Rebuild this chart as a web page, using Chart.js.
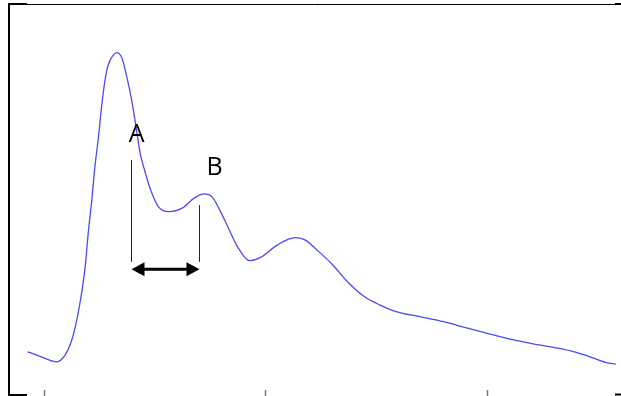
<!DOCTYPE html>
<html>
<head>
<meta charset="utf-8">
<script src="https://cdn.jsdelivr.net/npm/chart.js@4/dist/chart.umd.min.js"></script>
<style>
  html, body { margin: 0; padding: 0; background: #fff; }
  canvas { display: block; }
</style>
</head>
<body>
<canvas id="pulse" width="621" height="396"></canvas>
<script>
// Pulse waveform: time (s) vs. amplitude (arbitrary units, 0-100)
const timeSec = [
  -0.036, -0.009, 0.030, 0.049, 0.064, 0.075, 0.086, 0.094, 0.101, 0.109,
  0.116, 0.124, 0.131, 0.139, 0.146, 0.158, 0.165, 0.177, 0.188, 0.199,
  0.209, 0.218, 0.228, 0.242, 0.259, 0.282, 0.313, 0.340, 0.362, 0.380,
  0.398, 0.416, 0.438, 0.465, 0.492, 0.528, 0.568, 0.590, 0.617, 0.653,
  0.689, 0.724, 0.760, 0.796, 0.849, 0.903, 0.957, 1.001, 1.046, 1.100,
  1.154, 1.198, 1.234, 1.270, 1.292
];
const amplitude = [
  9.9, 8.8, 7.3, 9.1, 13.0, 18.1, 25.1, 31.9, 40.7, 49.2,
  57.8, 65.5, 73.3, 80.4, 84.2, 86.8, 87.4, 86.0, 81.1, 75.1,
  68.1, 61.4, 57.0, 51.8, 47.5, 46.2, 47.1, 49.7, 50.8, 50.1,
  46.6, 42.3, 37.1, 33.5, 34.5, 37.6, 39.5, 38.9, 36.3, 32.4,
  27.7, 24.2, 22.0, 20.3, 19.0, 17.7, 16.0, 14.7, 13.4, 12.1,
  11.0, 9.9, 8.6, 7.1, 6.7
];
const timeTicks = [0, 0.5, 1.0];

// Marked interval between point A and point B
const markA = { t: 0.1975, top: 59.6, label: 'A', labelT: 0.210, labelY: 64.3 };
const markB = { t: 0.351, top: 47.9, label: 'B', labelT: 0.386, labelY: 55.7 };
const markBottom = 33.2;
const arrowLevel = 31.3;

const framePlugin = {
  id: 'frame',
  afterDatasetsDraw(chart) {
    const { ctx, chartArea: a, scales: { x, y } } = chart;
    ctx.save();
    // box edges
    ctx.strokeStyle = '#000';
    ctx.lineWidth = 2;
    ctx.beginPath();
    ctx.moveTo(9, a.top - 0.5);
    ctx.lineTo(9, 395);
    ctx.moveTo(8, 395);
    ctx.lineTo(27, 395);
    ctx.moveTo(8, a.top);
    ctx.lineTo(27, a.top);
    ctx.moveTo(615, a.top);
    ctx.lineTo(621, a.top);
    ctx.moveTo(615, 394.5);
    ctx.lineTo(621, 394.5);
    ctx.stroke();
    ctx.lineWidth = 1;
    ctx.beginPath();
    ctx.moveTo(8, a.top + 0.5);
    ctx.lineTo(621, a.top + 0.5);
    ctx.stroke();

    // time ticks along the bottom
    ctx.strokeStyle = '#777';
    ctx.lineWidth = 1.5;
    ctx.beginPath();
    timeTicks.forEach(t => {
      const px = Math.round(x.getPixelForValue(t)) + 0.5;
      ctx.moveTo(px, a.bottom);
      ctx.lineTo(px, 396);
    });
    ctx.stroke();

    // vertical markers at A and B
    ctx.strokeStyle = '#222';
    ctx.lineWidth = 1;
    const yb = y.getPixelForValue(markBottom);
    [markA, markB].forEach(m => {
      const px = Math.round(x.getPixelForValue(m.t)) + 0.5;
      ctx.beginPath();
      ctx.moveTo(px, y.getPixelForValue(m.top));
      ctx.lineTo(px, yb);
      ctx.stroke();
    });

    // double-headed arrow between the markers
    const xa = x.getPixelForValue(markA.t) + 0.5;
    const xb = x.getPixelForValue(markB.t) + 0.5;
    const ya = y.getPixelForValue(arrowLevel);
    const head = 13, half = 7;
    ctx.fillStyle = '#000';
    ctx.strokeStyle = '#000';
    ctx.lineWidth = 3;
    ctx.beginPath();
    ctx.moveTo(xa + head - 2, ya);
    ctx.lineTo(xb - head + 2, ya);
    ctx.stroke();
    ctx.beginPath();
    ctx.moveTo(xa, ya);
    ctx.lineTo(xa + head, ya - half);
    ctx.lineTo(xa + head, ya + half);
    ctx.closePath();
    ctx.fill();
    ctx.beginPath();
    ctx.moveTo(xb, ya);
    ctx.lineTo(xb - head, ya - half);
    ctx.lineTo(xb - head, ya + half);
    ctx.closePath();
    ctx.fill();

    // point labels
    ctx.font = '25px "Open Sans", "Liberation Sans", sans-serif';
    ctx.textAlign = 'center';
    ctx.textBaseline = 'alphabetic';
    [markA, markB].forEach(m => {
      ctx.fillText(m.label, x.getPixelForValue(m.labelT), y.getPixelForValue(m.labelY));
    });
    ctx.restore();
  }
};

new Chart(document.getElementById('pulse'), {
  type: 'line',
  data: {
    labels: timeSec,
    datasets: [{
      data: timeSec.map((t, i) => ({ x: t, y: amplitude[i] })),
      borderColor: '#4b4bf2',
      borderWidth: 1.3,
      pointRadius: 0,
      cubicInterpolationMode: 'monotone',
      fill: false
    }]
  },
  options: {
    responsive: false,
    animation: false,
    devicePixelRatio: 1,
    layout: { padding: { left: 9, top: 4, right: 0, bottom: 6 } },
    plugins: { legend: { display: false }, tooltip: { enabled: false } },
    scales: {
      x: { type: 'linear', display: false, min: -0.0779, max: 1.3036 },
      y: { type: 'linear', display: false, min: 0, max: 100 }
    }
  },
  plugins: [framePlugin]
});
</script>
</body>
</html>
